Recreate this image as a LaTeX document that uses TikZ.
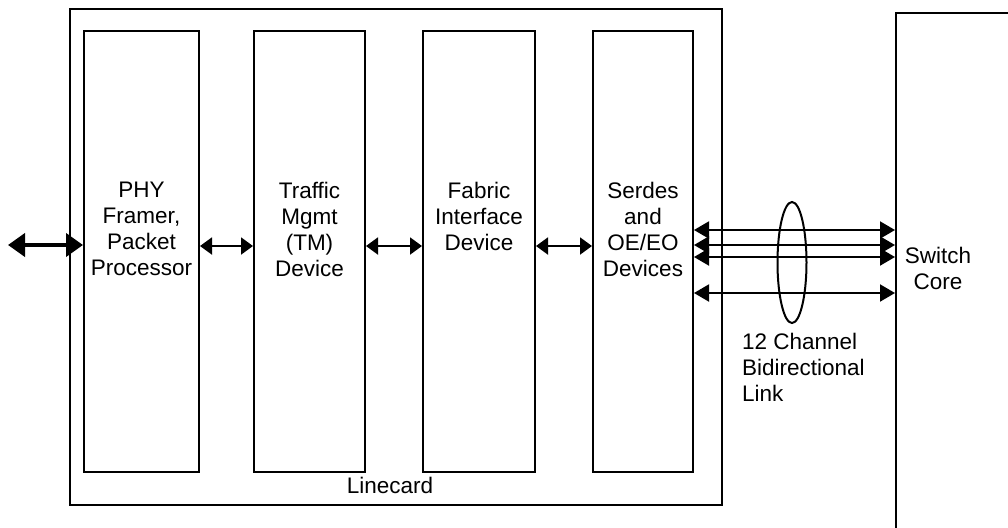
\documentclass[tikz,border=0pt]{standalone}
\usepackage{fontspec}
\setmainfont{Liberation Sans}
\usetikzlibrary{arrows.meta}
\begin{document}
\begin{tikzpicture}[x=0.5pt, y=-0.5pt, font=\fontsize{11.25}{13}\selectfont,
            line width=1pt, line join=miter,
            blk/.style={draw, rectangle, inner sep=0pt, minimum height=220.5pt},
            lbl/.style={align=center, inner sep=0pt, anchor=north},
            dbl/.style={{Triangle[length=6pt,width=8.5pt]}-{Triangle[length=6pt,width=8.5pt]}},
            fat/.style={line width=2pt, {Triangle[length=8.5pt,width=11.5pt]}-{Triangle[length=8.5pt,width=11.5pt]}},
            lnk/.style={{Triangle[length=7.5pt,width=8.5pt]}-{Triangle[length=7.5pt,width=8.5pt]}}]
            \useasboundingbox (0,0) rectangle (1008,527);
            \path 
            (8,245) coordinate (in)
            ;
            %\draw[gray!50] (0,0) grid[step=50] (1008,527);
            % linecard and the switch core (runs off the page)
            \node[draw, inner sep=0pt, minimum width=326pt, minimum height=248pt] (lc) at (396,257) {};
            \node[draw, inner sep=0pt, anchor=north west, minimum width=100pt, minimum height=300pt] (core) at (895,12) {};
            \foreach \n/\x/\w/\t in {b1/141.5/57.5/{PHY\\Framer,\\Packet\\Processor},
                b2/309.5/55.5/{Traffic\\Mgmt\\(TM)\\Device},
                b3/479/56/{Fabric\\Interface\\Device},
                b4/643/50/{Serdes\\and\\OE/EO\\Devices}}
            {
            \node[blk, minimum width=\w pt] (\n) at (\x,251.5) {};
            \node[lbl] (\n t) at (\x,181) {\t};
            }
            % arrows between the blocks
            \draw[fat] (in) -- (in -| b1.west);
            \draw[dbl] (b1.east |- 0,246) -- (b2.west |- 0,246);
            \draw[dbl] (b2.east |- 0,246) -- (b3.west |- 0,246);
            \draw[dbl] (b3.east |- 0,246) -- (b4.west |- 0,246);
            \foreach \y in {230,245,257,293}
            \draw[lnk] (b4.east |- 0,\y) -- (core.west |- 0,\y);
            \draw (792,262.5) ellipse [x radius=7.25pt, y radius=30.25pt];
            % texts
            \node[inner sep=0pt, anchor=base] (lct) at (390,493) {Linecard};
            \node[lbl] (sw) at (938,246) {Switch\\Core};
            \node[lbl, align=left, anchor=north west] (link) at (741,332) {12 Channel\\Bidirectional\\Link};
        \end{tikzpicture}
\end{document}
